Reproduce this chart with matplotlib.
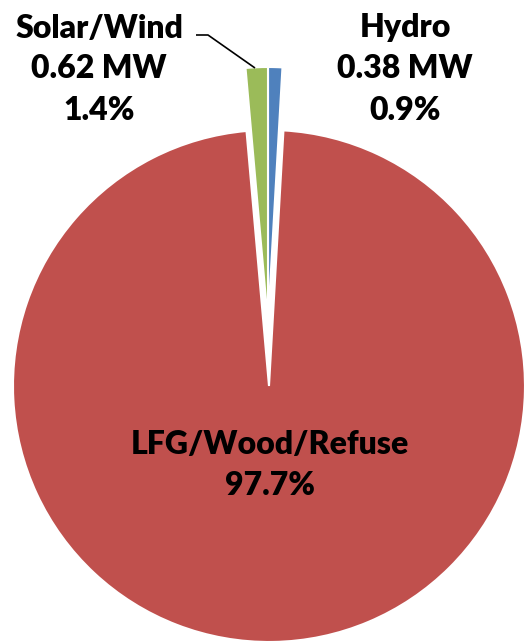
import matplotlib
matplotlib.use("Agg")
import matplotlib.pyplot as plt

# data, clockwise from 12 o'clock
names = ["Hydro", "LFG/Wood/Refuse", "Solar/Wind"]
shares = [0.9, 97.7, 1.4]
mw = [0.38, None, 0.62]
colors = ["#4F81BD", "#C0504D", "#9BBB59"]

W, H = 524, 642
fig = plt.figure(figsize=(W / 100, H / 100), dpi=100)
ax = fig.add_axes([0, 0, 1, 1])

# explode is in data units here (pixels), not a fraction of the radius
ax.pie(shares, colors=colors, startangle=90, counterclock=False,
       center=(268, H - 323), radius=256, explode=[0, 63, 0],
       wedgeprops=dict(edgecolor="white", linewidth=1.5))

# pie() resets the limits, so set them afterwards
ax.set_xlim(0, W)
ax.set_ylim(0, H)
ax.set_aspect("equal")
ax.axis("off")

font = dict(family=["Lato", "DejaVu Sans"], fontweight="heavy", fontsize=23,
            ha="center", va="center", linespacing=1.5)

def label(i):
    lines = [names[i]]
    if mw[i] is not None:
        lines.append(f"{mw[i]:.2f} MW")
    lines.append(f"{shares[i]:.1f}%")
    return "\n".join(lines)

ax.text(405, H - 69, label(0), **font)
ax.text(270, H - 465, label(1), **font)
ax.text(99, H - 69, label(2), **font)

# leader line for the Solar/Wind label
ax.plot([196, 208, 255], [H - 35, H - 35, H - 68], color="black", lw=1.2,
        solid_capstyle="butt")

fig.savefig("out.png", dpi=100)
